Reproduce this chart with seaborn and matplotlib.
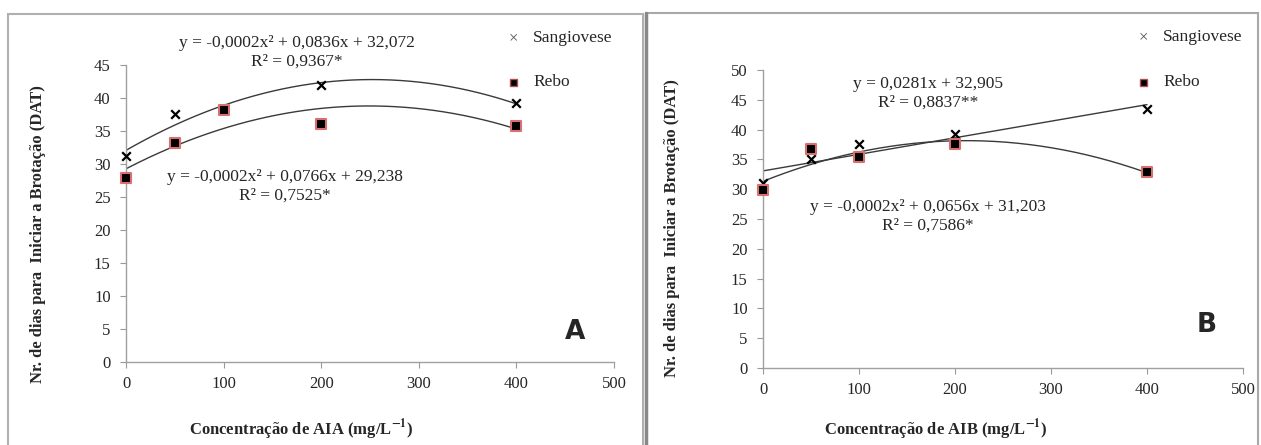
# Grafico de dias para brotacao segundo concentracao de AIA e AIB
import numpy as np
import pandas as pd
import matplotlib
matplotlib.use('Agg')
import matplotlib.pyplot as plt
from matplotlib.patches import Rectangle
from matplotlib.lines import Line2D
import seaborn as sns

concentracao = [0, 50, 100, 200, 400]

# Painel A - AIA
sangiovese_aia = [31.2, 37.5, 38.4, 42.0, 39.2]
rebo_aia = [27.9, 33.2, 38.2, 36.1, 35.7]

# Painel B - AIB
sangiovese_aib = [31.0, 35.0, 37.6, 39.2, 43.4]
rebo_aib = [29.9, 36.8, 35.4, 37.6, 32.9]

sns.set_style('white')
plt.rcParams['font.family'] = ['Liberation Serif', 'DejaVu Serif']
plt.rcParams['mathtext.fontset'] = 'stix'

fig = plt.figure(figsize=(12.61, 4.45), dpi=100)
W, H = 1261, 445


def fx(px):
    return px / W


def fy(py):
    return 1 - py / H


def ajuste(x, y, grau):
    coef = np.polyfit(x, y, grau)
    xs = np.linspace(0, 400, 200)
    return pd.DataFrame({'x': xs, 'y': np.polyval(coef, xs)})


def painel(box, ymax, sang, rebo, grau_s, grau_r):
    l, r, t, b = box
    ax = fig.add_axes([fx(l), fy(b), fx(r) - fx(l), fy(t) - fy(b)])
    df = pd.DataFrame({'x': concentracao * 2,
                       'y': sang + rebo,
                       'Cultivar': ['Sangiovese'] * 5 + ['Rebo'] * 5})
    for dados in (ajuste(concentracao, sang, grau_s), ajuste(concentracao, rebo, grau_r)):
        sns.lineplot(data=dados, x='x', y='y', ax=ax, color='#3a3a3a', lw=1.0)
    sns.scatterplot(data=df[df.Cultivar == 'Sangiovese'], x='x', y='y', ax=ax,
                    marker='x', color='black', s=38, linewidth=1.6, zorder=5,
                    clip_on=False)
    sns.scatterplot(data=df[df.Cultivar == 'Rebo'], x='x', y='y', ax=ax,
                    marker='s', color='black', edgecolor='#d97070', s=50,
                    linewidth=1.5, zorder=5, clip_on=False)
    ax.set_xlim(0, 500)
    ax.set_ylim(0, ymax)
    ax.set_xticks(range(0, 501, 100))
    ax.set_yticks(range(0, ymax + 1, 5))
    ax.tick_params(axis='both', labelsize=12, length=4, width=0.8, color='#999999',
                   direction='out', bottom=True, left=True)
    ax.tick_params(axis='x', pad=6)
    ax.tick_params(axis='y', pad=7)
    for s in ('top', 'right'):
        ax.spines[s].set_visible(False)
    for s in ('left', 'bottom'):
        ax.spines[s].set_color('#a0a0a0')
        ax.spines[s].set_linewidth(1.0)
    ax.set_xlabel('')
    ax.set_ylabel('')
    return ax


# bordas dos paineis
fig.patches.append(Rectangle((fx(8), fy(446)), fx(635), fy(14) - fy(446),
                             transform=fig.transFigure, fill=False,
                             edgecolor='#b0b0b0', lw=1.5))
fig.patches.append(Rectangle((fx(646), fy(446)), fx(612), fy(13) - fy(446),
                             transform=fig.transFigure, fill=False,
                             edgecolor='#a8a8a8', lw=1.5))
fig.lines.append(Line2D([fx(646), fx(646)], [fy(13), 0], transform=fig.transFigure,
                        color='#888888', lw=2.5))

painel((126, 614, 65, 362), 45, sangiovese_aia, rebo_aia, 2, 2)
painel((763, 1243, 70, 368), 50, sangiovese_aib, rebo_aib, 1, 2)

txt = dict(ha='center', va='center', fontsize=12.5)
fig.text(fx(297), fy(43), 'y = -0,0002x² + 0,0836x + 32,072', **txt)
fig.text(fx(297), fy(62), 'R² = 0,9367*', **txt)
fig.text(fx(285), fy(177), 'y = -0,0002x² + 0,0766x + 29,238', **txt)
fig.text(fx(285), fy(196), 'R² = 0,7525*', **txt)

fig.text(fx(928), fy(84), 'y = 0,0281x + 32,905', **txt)
fig.text(fx(928), fy(103), 'R² = 0,8837**', **txt)
fig.text(fx(928), fy(207), 'y = -0,0002x² + 0,0656x + 31,203', **txt)
fig.text(fx(928), fy(226), 'R² = 0,7586*', **txt)

# legendas
for x0, ys, yr in ((513, 38, 82), (1143, 37, 82)):
    fig.text(fx(x0), fy(ys), '×', ha='center', va='center', fontsize=12, color='#555555')
    fig.text(fx(x0 + 20), fy(ys), 'Sangiovese', ha='left', va='center', fontsize=12.5)
    fig.patches.append(Rectangle((fx(x0 - 3.5), fy(yr + 3.5)), fx(7), fy(0) - fy(7),
                                 transform=fig.transFigure, facecolor='black',
                                 edgecolor='#b05050', lw=1.0))
    fig.text(fx(x0 + 20), fy(yr), 'Rebo', ha='left', va='center', fontsize=12.5)

# letras dos paineis
fig.text(fx(575), fy(332), 'A', ha='center', va='center', fontsize=19,
         fontweight='bold', family='DejaVu Sans')
fig.text(fx(1207), fy(325), 'B', ha='center', va='center', fontsize=19,
         fontweight='bold', family='DejaVu Sans')

# titulos dos eixos
fig.text(fx(301), fy(430), 'Concentração de AIA (mg/L$^{\\mathbf{-1}}$)', ha='center',
         va='center', fontsize=12, fontweight='bold')
fig.text(fx(936), fy(430), 'Concentração de AIB (mg/L$^{\\mathbf{-1}}$)', ha='center',
         va='center', fontsize=12, fontweight='bold')
fig.text(fx(38), fy(234), 'Nr. de dias para  Iniciar a Brotação (DAT)', ha='center',
         va='center', rotation=90, fontsize=12, fontweight='bold')
fig.text(fx(672), fy(228), 'Nr. de dias para  Iniciar a Brotação (DAT)', ha='center',
         va='center', rotation=90, fontsize=12, fontweight='bold')

fig.savefig('out.png', dpi=100)
